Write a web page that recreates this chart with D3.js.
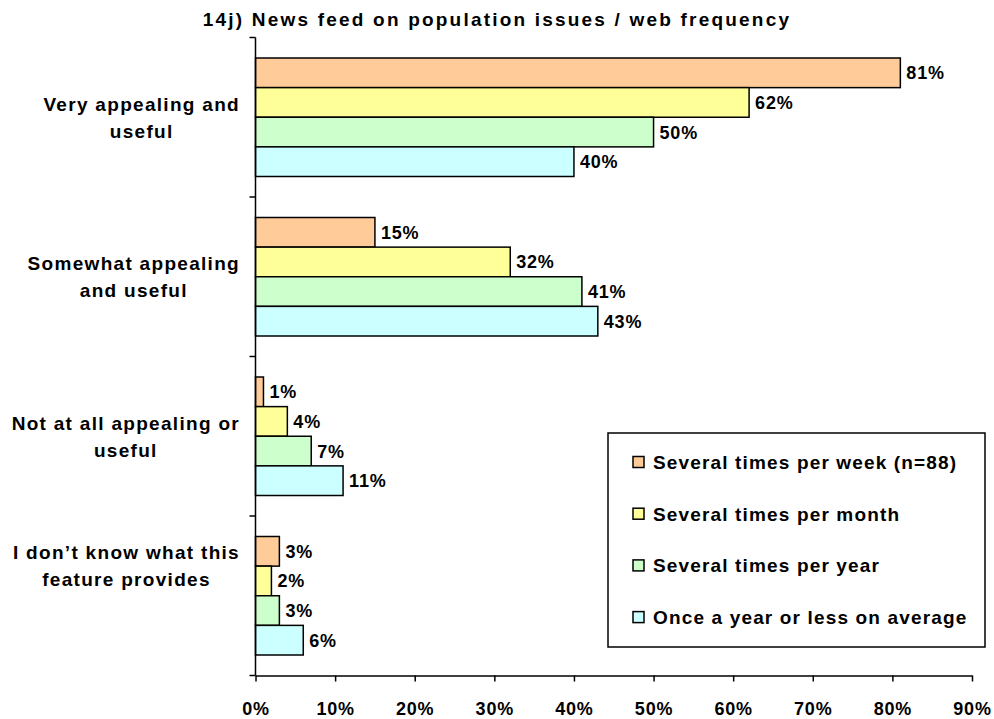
<!DOCTYPE html>
<html><head><meta charset="utf-8">
<script src="https://cdn.jsdelivr.net/npm/d3@7"></script>
<style>
body{margin:0;background:#fff;}
text{font-family:"Liberation Sans",Arial,sans-serif;font-weight:bold;fill:#000;}
</style></head>
<body><svg id="c" width="994" height="719"></svg>
<script>
const title = "14j) News feed on population issues / web frequency";
const categories = [
  ["Very appealing and","useful"],
  ["Somewhat appealing","and useful"],
  ["Not at all appealing or","useful"],
  ["I don\u2019t know what this","feature provides"]
];
const seriesNames = ["Several times per week (n=88)","Several times per month","Several times per year","Once a year or less on average"];
const seriesColors = ["#FFCC99","#FFFF99","#CCFFCC","#CCFFFF"];
const weekly  = [81, 15, 1, 3];
const monthly = [62, 32, 4, 2];
const yearly  = [50, 41, 7, 3];
const rarely  = [40, 43, 11, 6];
const xTicks = [0,10,20,30,40,50,60,70,80,90];

const series = [weekly, monthly, yearly, rarely];
const svg = d3.select("#c");

const x = d3.scaleLinear().domain([0,90]).range([255.5, 972]);
const y = d3.scaleBand().domain(d3.range(categories.length)).range([37.5, 675.5]).padding(0);
const inner = d3.scaleBand().domain(d3.range(series.length)).range([20.5, 139]).padding(0);

// title
svg.append("text").attr("x", 497).attr("y", 19).attr("dy","0.36em").attr("text-anchor","middle")
  .style("font-size","19px").style("letter-spacing","2.2px").text(title);

// bars
series.forEach((vals, si) => {
  const g = svg.append("g");
  vals.forEach((v, ci) => {
    const y0 = y(ci) + inner(si);
    g.append("rect").attr("x", x(0)).attr("y", y0)
      .attr("width", x(v) - x(0)).attr("height", inner.bandwidth())
      .attr("fill", seriesColors[si]).attr("stroke","#000").attr("stroke-width",1.5);
    g.append("text").attr("x", x(v) + 6).attr("y", y0 + inner.bandwidth()/2)
      .attr("dy","0.36em").style("font-size","18px").style("letter-spacing","0.8px").text(v + "%");
  });
});

// y axis
svg.append("line").attr("x1", x(0)).attr("x2", x(0)).attr("y1", y.range()[0]).attr("y2", y.range()[1])
  .attr("stroke","#000").attr("stroke-width",1.5);
const bounds = d3.range(categories.length+1).map(i => i < categories.length ? y(i) : y.range()[1]);
bounds.forEach(b => svg.append("line").attr("x1", x(0)-6).attr("x2", x(0)).attr("y1", b).attr("y2", b)
  .attr("stroke","#000").attr("stroke-width",1.5));

// x axis
const xAxis = d3.axisBottom(x).tickValues(xTicks).tickFormat(d => d + "%").tickSize(6).tickSizeOuter(0);
const xg = svg.append("g").attr("transform", `translate(0,${y.range()[1]})`).call(xAxis);
xg.select(".domain").attr("stroke","#000").attr("stroke-width",1.5);
xg.selectAll(".tick line").attr("stroke","#000").attr("stroke-width",1.5);
xg.selectAll(".tick text").attr("y", 33).attr("dy","0.36em")
  .style("font-size","18px").style("letter-spacing","0.8px")
  .style("font-family","'Liberation Sans',Arial,sans-serif").style("font-weight","bold").attr("fill","#000");

// category labels
const labelShift = [0, 0, 0, -30];
categories.forEach((lines, ci) => {
  const cy = y(ci) + y.bandwidth()/2 + labelShift[ci];
  const t = svg.append("text").attr("text-anchor","middle").style("font-size","19px").style("letter-spacing","1.3px");
  const spans = lines.map((ln, li) => t.append("tspan").attr("y", cy + (li - (lines.length-1)/2)*27).attr("dy","0.36em").text(ln));
  const maxW = d3.max(spans, s => s.node().getComputedTextLength());
  const cx = 240 - maxW/2;
  spans.forEach(s => s.attr("x", cx));
});

// legend
const lg = svg.append("g");
lg.append("rect").attr("x", 608).attr("y", 433).attr("width", 377).attr("height", 214)
  .attr("fill","#fff").attr("stroke","#000").attr("stroke-width",1.5);
seriesNames.forEach((n, i) => {
  const cy = 462 + i*51.7;
  lg.append("rect").attr("x", 633).attr("y", cy-5.5).attr("width", 11).attr("height", 11)
    .attr("fill", seriesColors[i]).attr("stroke","#000").attr("stroke-width",1.5);
  lg.append("text").attr("x", 653).attr("y", cy).attr("dy","0.36em").style("font-size","19px").style("letter-spacing","1.15px").text(n);
});
</script></body></html>
